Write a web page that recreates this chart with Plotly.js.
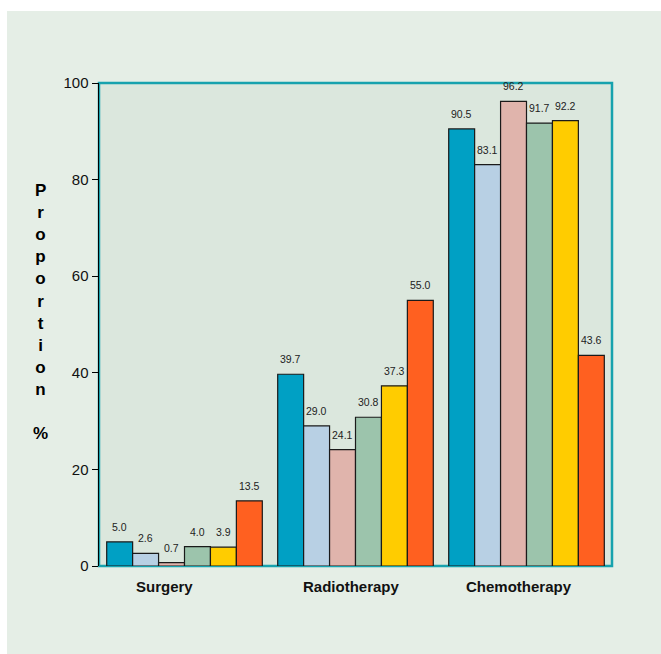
<!DOCTYPE html>
<html>
<head>
<meta charset="utf-8">
<script src="https://cdn.plot.ly/plotly-3.0.1.min.js"></script>
<style>
html,body{margin:0;padding:0;background:#ffffff;}
#chart{position:absolute;left:7px;top:11px;width:654px;height:643px;}
</style>
</head>
<body>
<div id="chart"></div>
<script>
const categories = ["Surgery", "Radiotherapy", "Chemotherapy"];
const series1 = [5.0, 39.7, 90.5];
const series2 = [2.6, 29.0, 83.1];
const series3 = [0.7, 24.1, 96.2];
const series4 = [4.0, 30.8, 91.7];
const series5 = [3.9, 37.3, 92.2];
const series6 = [13.5, 55.0, 43.6];
const yTicks = [0, 20, 40, 60, 80, 100];

const allSeries = [series1, series2, series3, series4, series5, series6];
const colors = ["#00a0c4", "#b8d0e4", "#e0b4ac", "#9cc4ac", "#ffcc00", "#ff6020"];

// layout constants (style)
const W = 654, H = 643;
const M = {l: 92, r: 49, t: 72, b: 88};
const BARGAP = 0.09;
const catLabelShift = [-20, -4, -8];

const plotW = W - M.l - M.r;
const barW = plotW / categories.length * (1 - BARGAP) / allSeries.length;

const traces = allSeries.map((vals, i) => ({
  type: "bar",
  x: categories,
  y: vals,
  marker: {color: colors[i], line: {color: "#1a1a1a", width: 1.2}},
  hoverinfo: "skip"
}));

const annotations = [];
allSeries.forEach((vals, i) => {
  vals.forEach((v, j) => {
    annotations.push({
      xref: "x", yref: "y",
      x: categories[j], y: v,
      xshift: (i - (allSeries.length - 1) / 2) * barW,
      yshift: 15,
      xanchor: "center", yanchor: "middle",
      showarrow: false,
      text: v.toFixed(1),
      font: {family: "Liberation Sans, Arial, sans-serif", size: 10.5, color: "#222222"}
    });
  });
});
categories.forEach((c, j) => {
  annotations.push({
    xref: "x", yref: "y",
    x: c, y: 0,
    xshift: catLabelShift[j],
    yshift: -20,
    xanchor: "center", yanchor: "middle",
    showarrow: false,
    text: c,
    font: {size: 15, weight: "bold", color: "#111111"}
  });
});
annotations.push({
  xref: "paper", yref: "paper",
  x: -0.115, y: 0.526,
  xanchor: "center", yanchor: "middle",
  showarrow: false,
  align: "center",
  text: "P<br>r<br>o<br>p<br>o<br>r<br>t<br>i<br>o<br>n<br><br>%",
  font: {size: 17, weight: "bold", color: "#000000"}
});

const layout = {
  width: W,
  height: H,
  margin: M,
  paper_bgcolor: "#e5eee6",
  plot_bgcolor: "#dbe7dd",
  barmode: "group",
  bargap: BARGAP,
  bargroupgap: 0,
  showlegend: false,
  font: {family: "Liberation Sans, Arial, sans-serif", color: "#000000"},
  xaxis: {
    type: "category",
    showline: false,
    showgrid: false,
    zeroline: false,
    ticks: "",
    showticklabels: false
  },
  yaxis: {
    range: [0, 100],
    tickvals: yTicks,
    ticktext: yTicks.map(String),
    showgrid: false,
    zeroline: false,
    showline: true,
    linecolor: "#000000",
    linewidth: 1.5,
    ticks: "outside",
    ticklen: 6,
    tickcolor: "#000000",
    tickfont: {size: 15, color: "#111111"}
  },
  shapes: [{
    type: "rect", xref: "paper", yref: "paper",
    x0: 0, x1: 1, y0: 0, y1: 1,
    line: {color: "#17a2ae", width: 2.5},
    layer: "below"
  }],
  annotations: annotations
};

Plotly.newPlot("chart", traces, layout, {displayModeBar: false, staticPlot: true});
</script>
</body>
</html>
